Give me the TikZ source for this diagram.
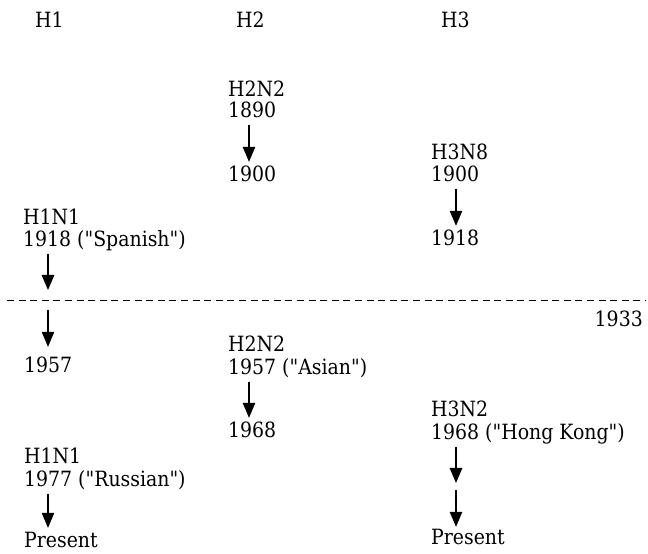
\documentclass[tikz,border=0pt]{standalone}
\usepackage{fontspec}
\setmainfont{DejaVu Serif Condensed}
\usepackage{tikz}
\usetikzlibrary{arrows.meta, positioning}

\tikzset{
	yr/.style = {anchor=base west, inner sep=0pt, text height=15pt, text depth=5pt,
		font=\fontsize{21}{22.5}\selectfont},
	hd/.style = {yr},
	lin/.style = {line width=1.1pt, ->}
}
\newcommand{\qq}[1]{(\textquotedbl #1\textquotedbl)}

\begin{document}
\begin{tikzpicture} [x=1pt, y=1pt, > = {Triangle[length=15pt, width=12.5pt]}]
			\useasboundingbox (0,0) rectangle (648,554);
			
			\node [hd] (hA) at (35,526) {H1};
			\node [hd] (hB) at (236,526) {H2};
			\node [hd] (hC) at (441,526) {H3};
			
			\node [yr] (bTyp) at (228,457) {H2N2};
			\node [yr] (bA) at (228,436) {1890};
			\node [yr] (bB) at (228,372) {1900};
			
			\node [yr] (cTyp) at (431,394) {H3N8};
			\node [yr] (cA) at (431,372) {1900};
			\node [yr] (cB) at (431,308) {1918};
			
			\node [yr] (aTyp) at (23,329) {H1N1};
			\node [yr] (aA) at (23,307) {1918 \qq{Spanish}};
			
			\coordinate (cutL) at (7,253);
			\coordinate (cutR) at (646,253);
			\draw [dashed, line width=1pt, dash pattern=on 7pt off 4.6pt] (cutL) -- (cutR);
			\node [yr, anchor=base east] (yCut) at (643,227) {1933};
			
			\node [yr] (aB) at (24,181) {1957};
			
			\node [yr] (dTyp) at (228,202) {H2N2};
			\node [yr] (dA) at (228,179) {1957 \qq{Asian}};
			\node [yr] (dB) at (228,116) {1968};
			
			\node [yr] (eTyp) at (431,137) {H3N2};
			\node [yr] (eA) at (431,114) {1968 \qq{Hong Kong}};
			\node [yr] (eB) at (431,9) {Present};
			
			\node [yr] (fTyp) at (24,90) {H1N1};
			\node [yr] (fA) at (24,67) {1977 \qq{Russian}};
			\node [yr] (fB) at (24,6) {Present};
			
			\coordinate (aUp) at (48,264);
			\coordinate (aDn) at (48,244);
			\coordinate (eMid) at (456,71);
			\coordinate (eMid2) at (456,64);
			
			\draw [lin] ([xshift=21pt, yshift=-1.5pt]bA.south west) -- ([xshift=21pt, yshift=5pt]bB.north west);
			\draw [lin] ([xshift=25pt, yshift=-1.5pt]cA.south west) -- ([xshift=25pt, yshift=5pt]cB.north west);
			\draw [lin] ([xshift=25pt, yshift=-1.5pt]aA.south west) -- (aUp);
			\draw [lin] (aDn) -- ([xshift=24pt, yshift=11pt]aB.north west);
			\draw [lin] ([xshift=21pt, yshift=-1.5pt]dA.south west) -- ([xshift=21pt, yshift=5pt]dB.north west);
			\draw [lin] ([xshift=25pt, yshift=-1.5pt]eA.south west) -- (eMid);
			\draw [lin] (eMid2) -- ([xshift=25pt, yshift=3pt]eB.north west);
			\draw [lin] ([xshift=24pt, yshift=-1.5pt]fA.south west) -- ([xshift=24pt, yshift=5pt]fB.north west);
		\end{tikzpicture}
\end{document}
